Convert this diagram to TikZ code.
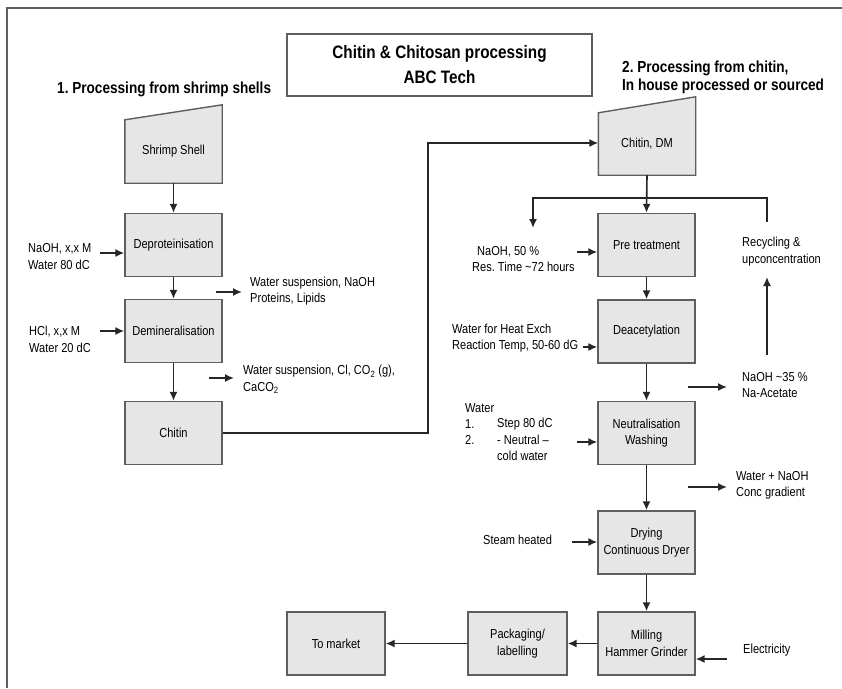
\documentclass[tikz,border=0pt]{standalone}
\usepackage{fontspec}
\setmainfont{Liberation Sans}[FakeStretch=0.85]
\usetikzlibrary{arrows.meta}
\definecolor{boxfill}{HTML}{E6E6E6}
\definecolor{boxline}{HTML}{5E5E5E}
\definecolor{arrcol}{HTML}{262626}
\newcommand{\fsnorm}{\fontsize{13}{16.5}\selectfont}
\frenchspacing
\tikzset{
  procbox/.style={draw=boxline, fill=boxfill, line width=1.4pt, minimum width=97pt, minimum height=63pt, inner sep=0pt, align=center, font=\fsnorm},
  trapfrm/.style={draw=none, minimum width=97pt, minimum height=78pt, inner sep=0pt},
  trapfill/.style={draw=boxline, fill=boxfill, line width=1.4pt},
  boxtxt/.style={inner sep=0pt, align=center, font=\fsnorm},
  lbl/.style={anchor=west, align=left, inner sep=0pt, font=\fsnorm},
  arr/.style={draw=arrcol, line width=1.6pt, -{Latex[length=9pt,width=8pt]}},
  frameline/.style={draw=boxline, line width=1.5pt}
}
\begin{document}
\begin{tikzpicture}[x=1pt,y=-1pt]
\useasboundingbox (0,0) rectangle (842,688);
\fill[white] (0,0) rectangle (842,688);
% frame
\draw[frameline] (7,688) -- (7,8) -- (842,8);
% title
\node[draw=boxline, line width=1.3pt, fill=white, minimum width=305pt, minimum height=62pt, align=center, inner sep=0pt,
      font=\bfseries\fontsize{18}{25}\selectfont] (title) at (439.5,65) {Chitin \& Chitosan processing\\ABC Tech};
\node[anchor=west, inner sep=0pt, font=\bfseries\fontsize{16}{18}\selectfont] (head1) at (57,89) {1. Processing from shrimp shells};
\node[anchor=west, align=left, inner sep=0pt, font=\bfseries\fontsize{16}{18}\selectfont] (head2) at (622,77) {2. Processing from chitin,\\In house processed or sourced};

% left column
\node[trapfrm] (shrimp) at (173.5,144) {};
\filldraw[trapfill] (shrimp.south west) -- ([yshift=-15pt]shrimp.north west) -- (shrimp.north east) -- (shrimp.south east) -- cycle;
\node[boxtxt] (shrimptxt) at (173.5,151) {Shrimp Shell};
\node[procbox] (deprot) at (173.5,245) {Deproteinisation};
\node[procbox] (demin) at (173.5,331) {Demineralisation};
\node[procbox] (chitin) at (173.5,433) {Chitin};

% right column
\node[trapfrm] (chitindm) at (647,136) {};
\filldraw[trapfill] (chitindm.south west) -- ([yshift=-16pt]chitindm.north west) -- (chitindm.north east) -- (chitindm.south east) -- cycle;
\node[boxtxt] (chitindmtxt) at (647,144) {Chitin, DM};
\node[procbox] (pre) at (646.5,245) {Pre treatment};
\node[procbox] (deacet) at (646.5,331.5) {Deacetylation};
\node[procbox] (neutral) at (646.5,433) {Neutralisation\\Washing};
\node[procbox] (drying) at (646.5,542.5) {Drying\\Continuous Dryer};
\node[procbox] (milling) at (646.5,643.5) {Milling\\Hammer Grinder};
\node[procbox, minimum width=99pt] (packaging) at (517.5,643.5) {Packaging/\\labelling};
\node[procbox, minimum width=98pt] (market) at (336,643.5) {To market};

% labels
\node[lbl] (naohxx) at (28,256.5) {NaOH, x,x M\\Water 80 dC};
\node[lbl] (hcl) at (29,339.5) {HCl, x,x M\\Water 20 dC};
\node[lbl] (wsnaoh) at (250,291) {Water suspension, NaOH\\Proteins, Lipids};
\node[lbl] (wscl) at (243,379.5) {Water suspension, Cl, CO\textsubscript{2} (g),\\CaCO\textsubscript{2}};
\node[lbl] (naoh50) at (472,259) {\hspace{5pt}NaOH, 50 \%\\Res. Time \textasciitilde72 hours};
\node[lbl] (heatex) at (452,338) {Water for Heat Exch\\Reaction Temp, 50-60 dG};
\node[lbl] (recycle) at (742,251.5) {Recycling \&\\upconcentration};
\node[lbl] (naoh35) at (742,385) {NaOH \textasciitilde35 \%\\Na-Acetate};
\node[lbl] (water) at (465,408) {Water};
\node[lbl] (s1n) at (465,424) {1.};
\node[lbl] (s1) at (497,424) {Step 80 dC};
\node[lbl] (s2n) at (465,440) {2.};
\node[lbl] (s2) at (497,440) {- Neutral --};
\node[lbl] (s3) at (497,456) {cold water};
\node[lbl] (wnaoh) at (736,485.5) {Water + NaOH\\Conc gradient};
\node[lbl] (steam) at (483,540) {Steam heated};
\node[lbl] (elec) at (743,650) {Electricity};

% helper coordinates
\coordinate (naohtop) at (533,228);
\coordinate (rectop) at (767,222);
\coordinate (n35top) at (767,355);
\coordinate (recbot) at (767,277);
\coordinate (bendA) at (428,433);
\coordinate (bendB) at (428,143);

% main flow left
\draw[arr] (shrimp.south) -- (deprot.north);
\draw[arr] (deprot.south) -- (demin.north);
\draw[arr] (demin.south) -- (chitin.north);
\draw[arr] (chitin.east) -- (bendA) -- (bendB) -- (chitindm.west |- bendB);

% main flow right
\draw[arr] (chitindm.south) -- (pre.north);
\draw[arr] (pre.south) -- (deacet.north);
\draw[arr] (deacet.south) -- (neutral.north);
\draw[arr] (neutral.south) -- (drying.north);
\draw[arr] (drying.south) -- (milling.north);
\draw[arr] (milling.west) -- (packaging.east);
\draw[arr] (packaging.west) -- (market.east);

% recycling loop
\draw[arr] (rectop) -- (767,198) -- (533,198) -- (naohtop);
\draw[arr] (n35top) -- (recbot);

% side streams
\draw[arr] (100,253) -- (deprot.west |- 0,253);
\draw[arr] (100,331) -- (demin.west |- 0,331);
\draw[arr] (216,292) -- ([xshift=-8pt,yshift=-1pt]wsnaoh.west);
\draw[arr] (209,378) -- ([xshift=-9pt,yshift=1.5pt]wscl.west);
\draw[arr] (577,252) -- (pre.west |- 0,252);
\draw[arr] (583,347) -- (deacet.west |- 0,347);
\draw[arr] (688,387) -- ([xshift=-15pt,yshift=-2pt]naoh35.west);
\draw[arr] (577,442) -- (neutral.west |- 0,442);
\draw[arr] (688,487) -- ([xshift=-9pt,yshift=-1.5pt]wnaoh.west);
\draw[arr] (572,542) -- (drying.west |- 0,542);
\draw[arr] (727,659) -- (milling.east |- 0,659);
\end{tikzpicture}
\end{document}
